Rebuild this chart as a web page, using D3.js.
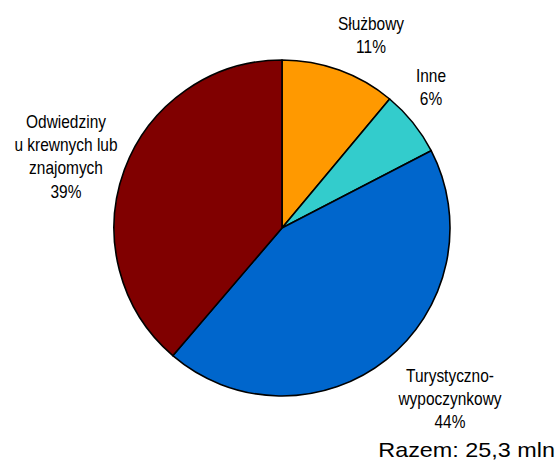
<!DOCTYPE html>
<html>
<head>
<meta charset="utf-8">
<script src="https://cdn.jsdelivr.net/npm/d3@7"></script>
<style>
  body { margin: 0; background: #fff; }
  text { font-family: "Liberation Sans", Arial, sans-serif; fill: #000; }
</style>
</head>
<body>
<div id="chart"></div>
<script>
// trip purpose, mln trips
let categories = ['Służbowy', 'Inne', 'Turystyczno-wypoczynkowy', 'Odwiedziny u krewnych lub znajomych'];
let labelLines = [['Służbowy'], ['Inne'], ['Turystyczno-', 'wypoczynkowy'], ['Odwiedziny', 'u krewnych lub', 'znajomych']];
let values = [2.8, 1.6, 11.1, 9.8];
let colors = ['#ff9900', '#33cccc', '#0066cc', '#800000'];
let totalLabel = 'Razem: 25,3 mln';

let totalWidth = 558;
let totalHeight = 461;
let cx = 282, cy = 228, radius = 168;

let total = d3.sum(values);
let tempData = categories.map(function(c, i) {
    return { name: c, value: values[i], lines: labelLines[i], color: colors[i] };
});

var svg = d3.select("#chart").append("svg")
    .attr("width", totalWidth)
    .attr("height", totalHeight);

var pie = d3.pie()
    .sort(null)
    .value(function(d) { return d.value; });

var arc = d3.arc()
    .innerRadius(0)
    .outerRadius(radius);

var g = svg.append("g")
    .attr("transform", "translate(" + cx + "," + cy + ")");

g.selectAll("path")
    .data(pie(tempData))
    .enter().append("path")
    .attr("d", arc)
    .style("fill", function(d) { return d.data.color; })
    .style("stroke", "#000")
    .style("stroke-width", 1.6)
    .style("stroke-linejoin", "round");

// label block positions (centre x, first baseline), relative to pie centre
let labelPos = [[89, -198], [149, -146], [168, 154], [-216, -100]];
let lineHeight = 23.2;

var labels = svg.append("g").attr("transform", "translate(" + cx + "," + cy + ")");
tempData.forEach(function(d, i) {
    let lines = d.lines.concat([Math.round(d.value / total * 100) + '%']);
    let lg = labels.append("g")
        .attr("transform", "translate(" + labelPos[i][0] + "," + labelPos[i][1] + ") scale(0.86,1)");
    lg.selectAll("text")
        .data(lines)
        .enter().append("text")
        .attr("x", 0)
        .attr("y", function(t, j) { return j * lineHeight; })
        .style("text-anchor", "middle")
        .style("font-size", "18px")
        .text(function(t) { return t; });
});

svg.append("text")
    .attr("transform", "translate(555,457) scale(1.17,1)")
    .style("text-anchor", "end")
    .style("font-size", "20px")
    .text(totalLabel);
</script>
</body>
</html>
